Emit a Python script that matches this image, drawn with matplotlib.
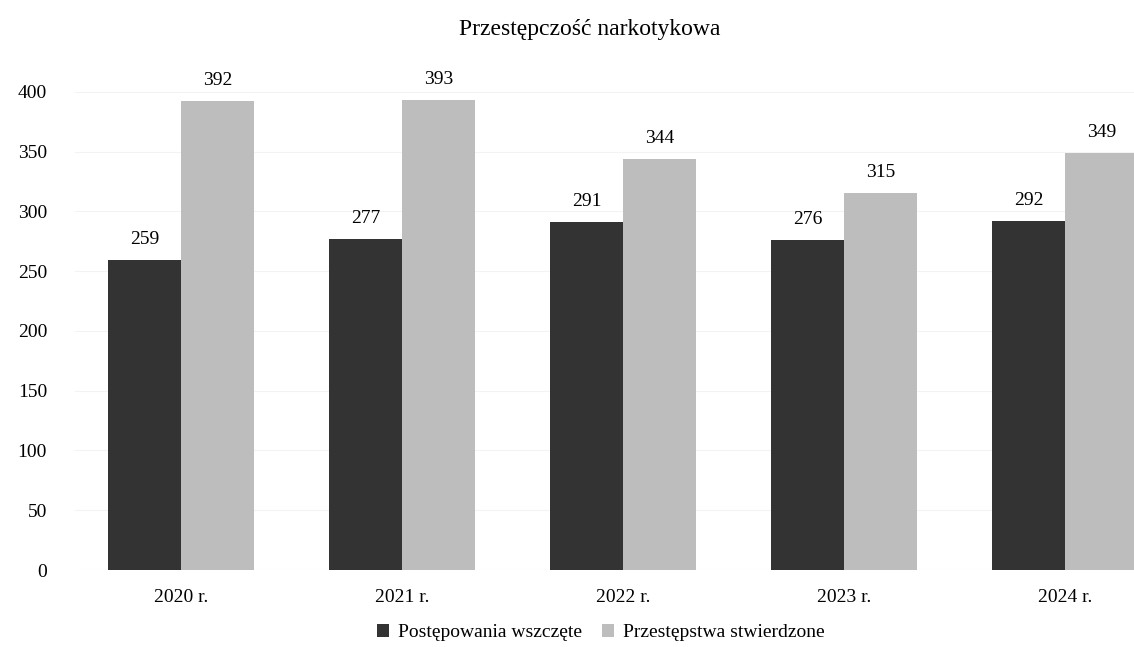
import matplotlib
matplotlib.use("Agg")
import matplotlib.pyplot as plt
import numpy as np

years = ["2020 r.", "2021 r.", "2022 r.", "2023 r.", "2024 r."]
wszczete = [259, 277, 291, 276, 292]
stwierdzone = [392, 393, 344, 315, 349]

plt.rcParams['font.family'] = ['Liberation Serif', 'DejaVu Serif']

fig = plt.figure(figsize=(11.34, 6.47), dpi=100)
ax = fig.add_axes([0.066, 0.119, 0.934, 0.776])

x = np.arange(len(years))
w = 0.33
b1 = ax.bar(x - w / 2, wszczete, w, color="#333333", label="Postępowania wszczęte")
b2 = ax.bar(x + w / 2, stwierdzone, w, color="#bdbdbd", label="Przestępstwa stwierdzone")

for bars in (b1, b2):
    for r in bars:
        ax.text(r.get_x() + r.get_width() / 2, r.get_height() + 10, str(int(r.get_height())),
                ha="center", va="bottom", fontsize=14)

ax.set_xlim(-0.48, 4.31)
ax.set_ylim(0, 420)
ax.set_yticks(range(0, 401, 50))
ax.set_xticks(x)
ax.set_xticklabels(years)
ax.tick_params(length=0, labelsize=14, pad=14)
ax.tick_params(axis="y", pad=20)
ax.grid(axis="y", color="#f3f3f3", linewidth=0.8)
ax.set_axisbelow(True)
for s in ax.spines.values():
    s.set_visible(False)

fig.text(0.52, 0.955, "Przestępczość narkotykowa", ha="center", va="center", fontsize=17)
fig.legend(loc="center", bbox_to_anchor=(0.53, 0.022), ncol=2, frameon=False,
           fontsize=14, handlelength=0.6, handleheight=0.6, handletextpad=0.5, columnspacing=1.0)

fig.savefig("out.png", dpi=100)
